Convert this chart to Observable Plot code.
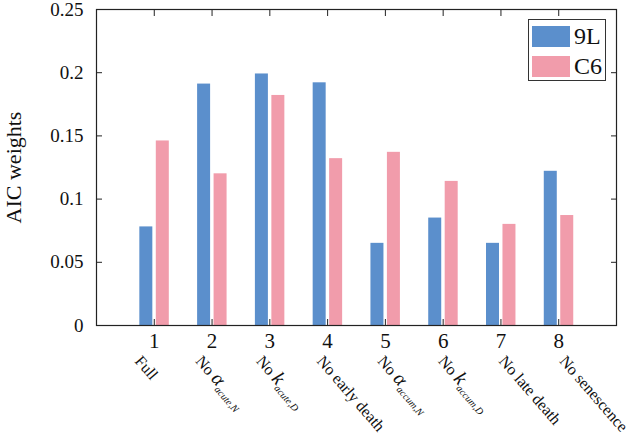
<!DOCTYPE html>
<html>
<head>
<meta charset="utf-8">
<script src="https://cdn.jsdelivr.net/npm/d3@7"></script>
<script src="https://cdn.jsdelivr.net/npm/@observablehq/plot@0.6"></script>
<style>
  html, body { margin: 0; padding: 0; background: #fff; }
  #chart { position: relative; width: 630px; height: 440px; font-family: 'Liberation Serif', 'Times New Roman', Times, serif; }
  #chart svg text { font-family: 'Liberation Serif', 'Times New Roman', Times, serif; }
  .legend { position: absolute; left: 528px; top: 19px; width: 78px; height: 62px; border: 1px solid #333; background: #fff; box-sizing: border-box; }
  .legend .item { position: absolute; left: 3px; height: 22px; display: flex; align-items: center; }
  .legend .sw { width: 38px; height: 21px; }
  .legend .lab { margin-left: 4px; font-size: 24px; color: #111; line-height: 22px; font-family: 'Liberation Serif', 'Times New Roman', Times, serif; }
</style>
</head>
<body>
<div id="chart"></div>
<script>
// ---- data ----
const models = [1, 2, 3, 4, 5, 6, 7, 8];
const labelMain = ["Full", "No ", "No ", "No early death", "No ", "No ", "No late death", "No senescence"];
const labelSym  = ["", "α", "k", "", "α", "k", "", ""];
const labelSub  = ["", "acute,N", "acute,D", "", "accum,N", "accum,D", "", ""];
const seriesNames = ["9L", "C6"];
const values9L = [0.078, 0.191, 0.199, 0.192, 0.065, 0.085, 0.065, 0.122];
const valuesC6 = [0.146, 0.120, 0.182, 0.132, 0.137, 0.114, 0.080, 0.087];
const yTicks = [0, 0.05, 0.1, 0.15, 0.2, 0.25];
const yTickLabels = ["0", "0.05", "0.1", "0.15", "0.2", "0.25"];
const colors = ["#5b8fcc", "#f19cab"];

// ---- table ----
const offsets = {"9L": [-0.25, -0.025], "C6": [0.035, 0.26]};
const bars = [];
models.forEach((m, i) => {
  bars.push({model: m, series: "9L", value: values9L[i]});
  bars.push({model: m, series: "C6", value: valuesC6[i]});
});
const labels = models.map((m, i) => ({model: m, main: labelMain[i], sym: labelSym[i], sub: labelSub[i]}));

const font = "'Liberation Serif', 'Times New Roman', Times, serif";

const plot = Plot.plot({
  width: 630,
  height: 440,
  marginLeft: 96,
  marginRight: 14,
  marginTop: 9,
  marginBottom: 115,
  style: {fontFamily: font, background: "#fff", color: "#111", overflow: "visible"},
  x: {domain: [0, 9], axis: null},
  y: {domain: [0, 0.25], axis: null},
  color: {domain: seriesNames, range: colors},
  marks: [
    Plot.rectY(bars, {
      x1: d => d.model + offsets[d.series][0],
      x2: d => d.model + offsets[d.series][1],
      y1: 0,
      y2: "value",
      fill: "series"
    }),
    // inward ticks (all four sides)
    Plot.axisX(models, {anchor: "bottom", tickSize: -6, tickFormat: () => "", label: null, stroke: "#222"}),
    Plot.axisX(models, {anchor: "top", tickSize: -6, tickFormat: () => "", label: null, stroke: "#222"}),
    Plot.axisY(yTicks, {anchor: "left", tickSize: -6, tickFormat: () => "", label: null, stroke: "#222"}),
    Plot.axisY(yTicks, {anchor: "right", tickSize: -6, tickFormat: () => "", label: null, stroke: "#222"}),
    Plot.frame({stroke: "#222", strokeWidth: 1.2}),
    // y tick labels
    Plot.text(yTicks, {
      y: d => d, frameAnchor: "left", text: (d, i) => yTickLabels[i],
      textAnchor: "end", dx: -13, fontSize: 19, fill: "#111"
    }),
    // x tick labels
    Plot.text(models, {
      x: d => d, frameAnchor: "bottom", text: d => String(d),
      lineAnchor: "bottom", dy: 22, fontSize: 21, fill: "#111"
    }),
    // rotated category labels
    Plot.text(labels, {
      x: d => d.model - 0.35 + 0.05 * (d.model - 1),
      frameAnchor: "bottom",
      text: d => d.main + d.sym + d.sub,
      rotate: 49, textAnchor: "start", lineAnchor: "bottom",
      dy: 36, fontSize: 16, fill: "#111",
      className: "catlabels"
    }),
    // y axis title
    Plot.text(["AIC weights"], {
      frameAnchor: "left", text: d => d, rotate: -90,
      textAnchor: "middle", lineAnchor: "bottom", dx: -76, fontSize: 22, fill: "#111"
    })
  ]
});

d3.select(plot).selectAll("text").attr("font-family", font);

// rich text for subscripted labels
d3.select(plot).selectAll("g.catlabels text").each(function(_, i) {
  const d = labels[i];
  if (!d || !d.sym) return;
  const t = d3.select(this);
  t.text(null);
  t.append("tspan").text(d.main);
  t.append("tspan").attr("font-style", "italic").attr("font-size", 20).text(d.sym);
  t.append("tspan").attr("font-style", "italic").attr("font-size", 10).attr("dy", 4).text(d.sub);
});

const root = document.getElementById("chart");
root.appendChild(plot);

// legend
const legend = d3.select(root).append("div").attr("class", "legend");
seriesNames.forEach((s, i) => {
  const item = legend.append("div").attr("class", "item").style("top", (5 + i * 30) + "px");
  item.append("div").attr("class", "sw").style("background", colors[i]);
  item.append("span").attr("class", "lab").text(s);
});
</script>
</body>
</html>
